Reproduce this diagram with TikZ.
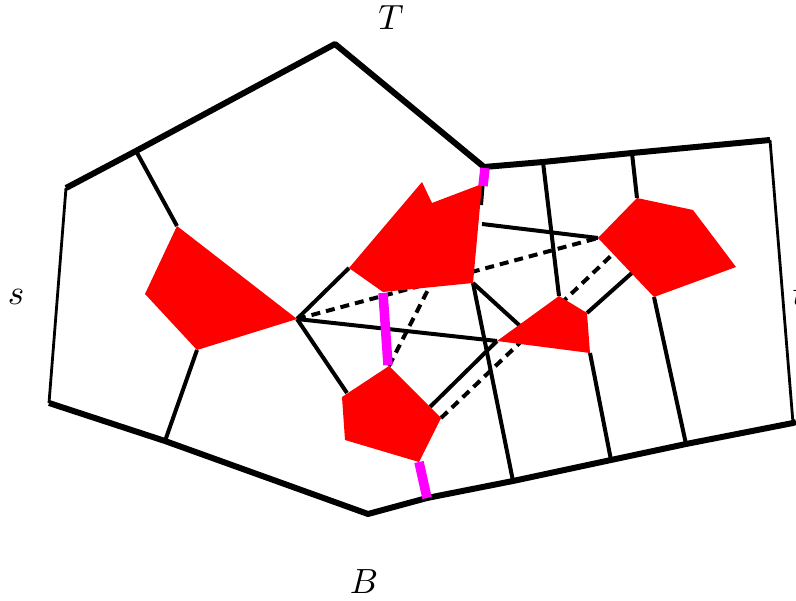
\documentclass[tikz,border=0pt]{standalone}
\definecolor{cutpink}{RGB}{255,0,255}
\begin{document}
\begin{tikzpicture}[x=1pt, y=-1pt,
    wall/.style={line width=6pt, line join=round},
    side/.style={line width=2.8pt},
    link/.style={line width=4pt},
    hidden/.style={line width=4pt, dash pattern=on 9pt off 6pt},
    cut/.style={line width=9.5pt, cutpink},
    blob/.style={fill=red},
    lab/.style={scale=3.5, inner sep=0pt}]
    \useasboundingbox (0,0) rectangle (796,601);

    % Boundary corners
    \coordinate (LT) at (66,188);
    \coordinate (LT1) at (136,151);
    \coordinate (Top) at (335,44);
    \coordinate (Notch) at (484,167);
    \coordinate (RT1) at (543,162);
    \coordinate (RT2) at (632,153);
    \coordinate (RT) at (770,140);
    \coordinate (RB) at (793,423);
    \coordinate (RB1) at (686,444);
    \coordinate (RB2) at (611,460);
    \coordinate (RB3) at (513,481);
    \coordinate (RB4) at (427,498);
    \coordinate (Bot) at (368,514);
    \coordinate (LB1) at (165,441);
    \coordinate (LB) at (49,403);

    % Red regions
    \coordinate (A1) at (177,226); \coordinate (A2) at (145,294);
    \coordinate (A3) at (197,350); \coordinate (A4) at (297,319);
    \coordinate (C1) at (349,268); \coordinate (C2) at (422,182);
    \coordinate (C3) at (432,203); \coordinate (C4) at (482,184);
    \coordinate (C5) at (473,283); \coordinate (C6) at (383,292);
    \coordinate (R1) at (598,238); \coordinate (R2) at (637,198);
    \coordinate (R3) at (693,210); \coordinate (R4) at (736,267);
    \coordinate (R5) at (654,297);
    \coordinate (S1) at (497,341); \coordinate (S2) at (559,296);
    \coordinate (S3) at (587,313); \coordinate (S4) at (590,353);
    \coordinate (P1) at (389,366); \coordinate (P2) at (342,397);
    \coordinate (P3) at (345,440); \coordinate (P4) at (419,462);
    \coordinate (P5) at (441,418);

    % Links (under the regions)
    \draw[link] (LT1) -- (A1);
    \draw[link] (A3) -- (LB1);
    \draw[link] (A4) -- (C1);
    \draw[link] (A4) -- (347,393);
    \draw[link] (A4) -- (S1);
    \draw[link] (482,224) -- (R1);
    \draw[link] (Notch) -- (481,205);
    \draw[link] (C5) -- (RB3);
    \draw[link] (C5) -- (530,335);
    \draw[link] (430,407) -- (S1);
    \draw[link] (RT1) -- (S2);
    \draw[link] (RT2) -- (R2);
    \draw[link] (R5) -- (RB1);
    \draw[link] (S4) -- (RB2);
    \draw[link] (S3) -- (633,272);
    \draw[hidden] (A4) -- (R1);
    \draw[hidden] (P5) -- (615,252);
    \draw[hidden] (P1) -- (432,282);

    \fill[blob] (A1) -- (A2) -- (A3) -- (A4) -- cycle;
    \fill[blob] (C1) -- (C2) -- (C3) -- (C4) -- (C5) -- (C6) -- cycle;
    \fill[blob] (R1) -- (R2) -- (R3) -- (R4) -- (R5) -- cycle;
    \fill[blob] (S1) -- (S2) -- (S3) -- (S4) -- cycle;
    \fill[blob] (P1) -- (P2) -- (P3) -- (P4) -- (P5) -- cycle;

    % Boundary
    \draw[wall] (LT) -- (LT1) -- (Top) -- (Notch) -- (RT1) -- (RT2) -- (RT);
    \draw[wall] (796,422) -- (RB) -- (RB1) -- (RB2) -- (RB3) -- (RB4) -- (Bot) -- (LB1) -- (LB);
    \draw[side] (LT) -- (LB);
    \draw[side] (RT) -- (RB);

    % Cuts
    \draw[cut] (485,168) -- (483,186);
    \draw[cut] (383,293) -- (388,365);
    \draw[cut] (419,462) -- (RB4);

    % Labels
    \node[lab] (lT) at (391,18) {$T$};
    \node[lab] (ls) at (16,297) {$s$};
    \node[lab] (lt) at (799,295) {$t$};
    \node[lab] (lB) at (364,582) {$B$};
\end{tikzpicture}
\end{document}
